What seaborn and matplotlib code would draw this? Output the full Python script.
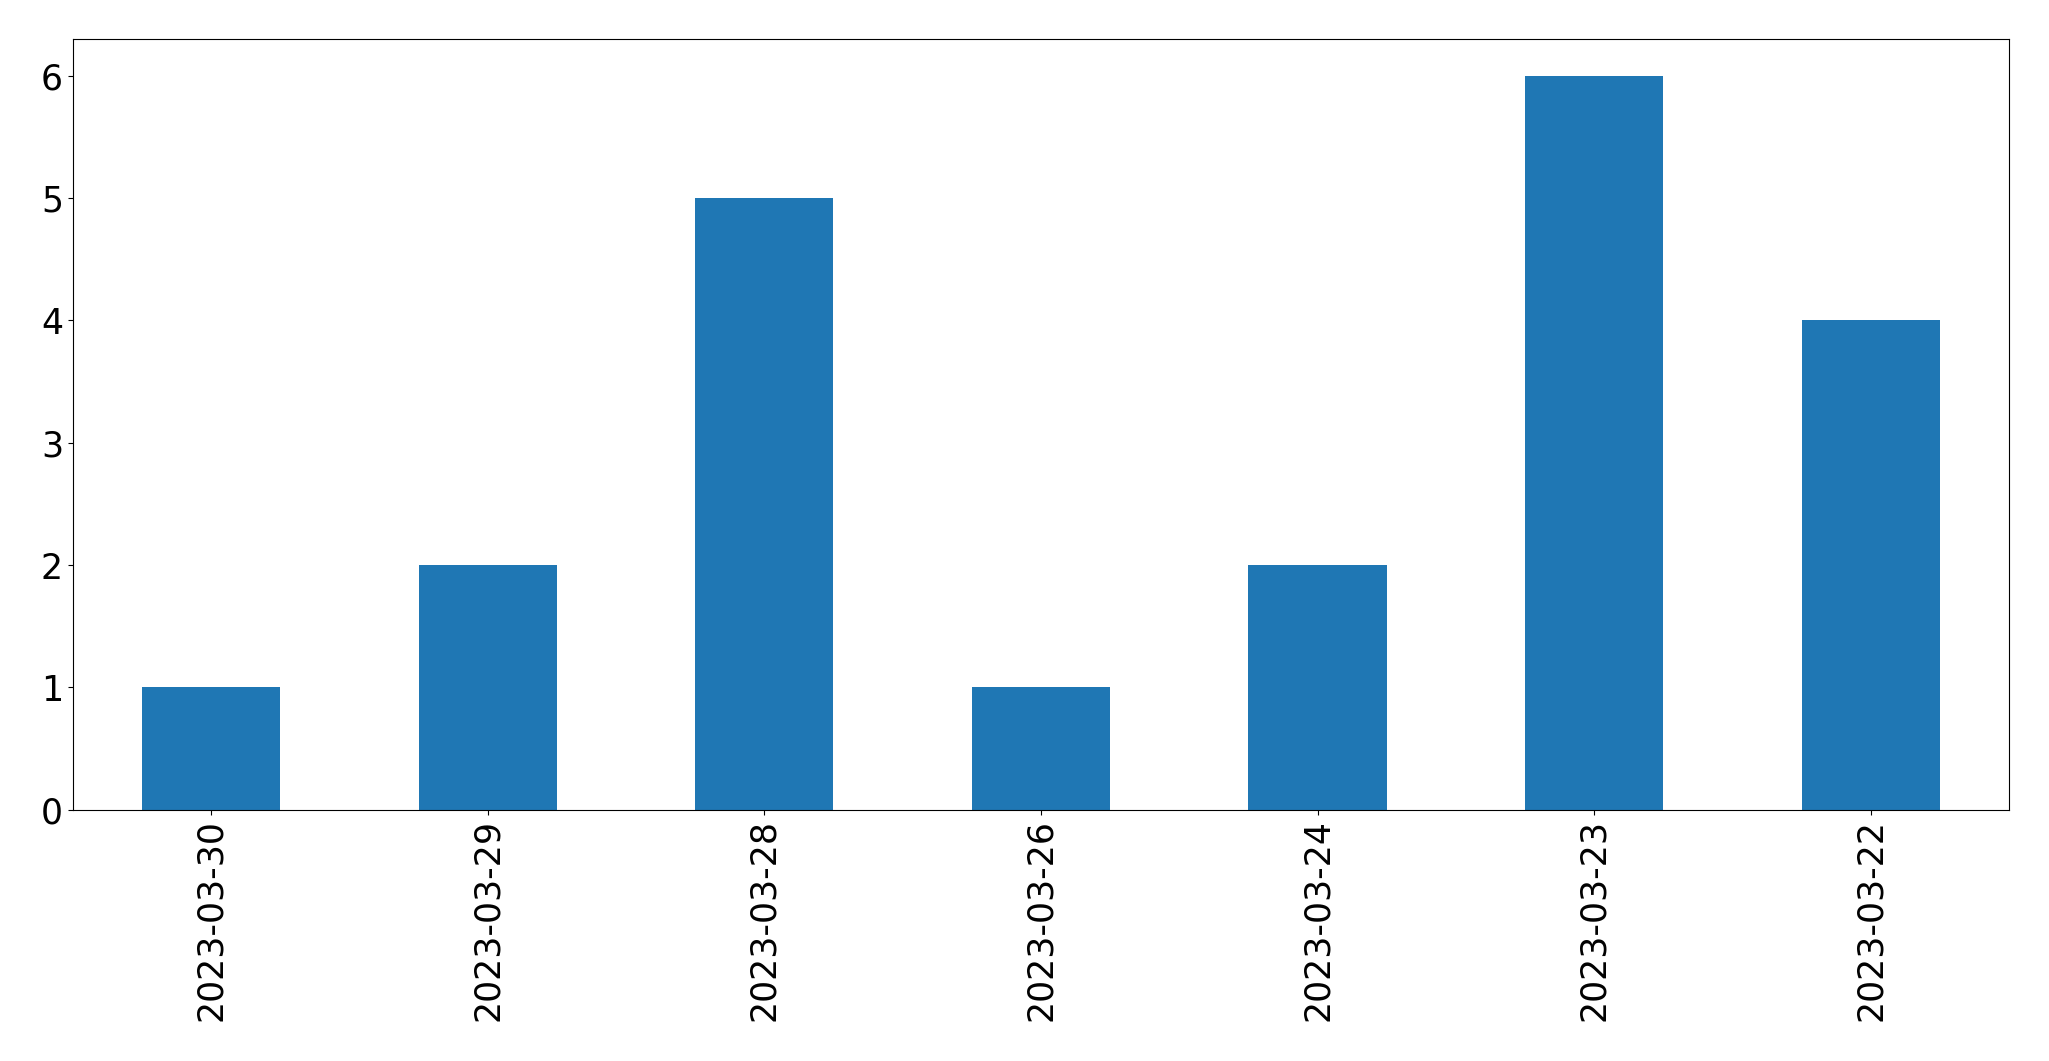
import matplotlib
matplotlib.use("Agg")
import matplotlib.pyplot as plt
import seaborn as sns
import pandas as pd

dates = ["2023-03-30", "2023-03-29", "2023-03-28", "2023-03-26", "2023-03-24", "2023-03-23", "2023-03-22"]
counts = [1, 2, 5, 1, 2, 6, 4]

df = pd.DataFrame({"date": dates, "count": counts})

fig, ax = plt.subplots(figsize=(20.49, 10.61), dpi=100)
sns.barplot(data=df, x="date", y="count", order=dates, color="#1f77b4",
            saturation=1, width=0.5, ax=ax, errorbar=None)
ax.set_xlim(-0.5, len(dates) - 0.5)
ax.set_ylim(0, 6.3)
ax.set_xlabel("")
ax.set_ylabel("")
ax.tick_params(axis="both", labelsize=25)
plt.setp(ax.get_xticklabels(), rotation=90)
fig.subplots_adjust(left=0.0355, right=0.9805, top=0.963, bottom=0.237)
fig.savefig("out.png", dpi=100)
